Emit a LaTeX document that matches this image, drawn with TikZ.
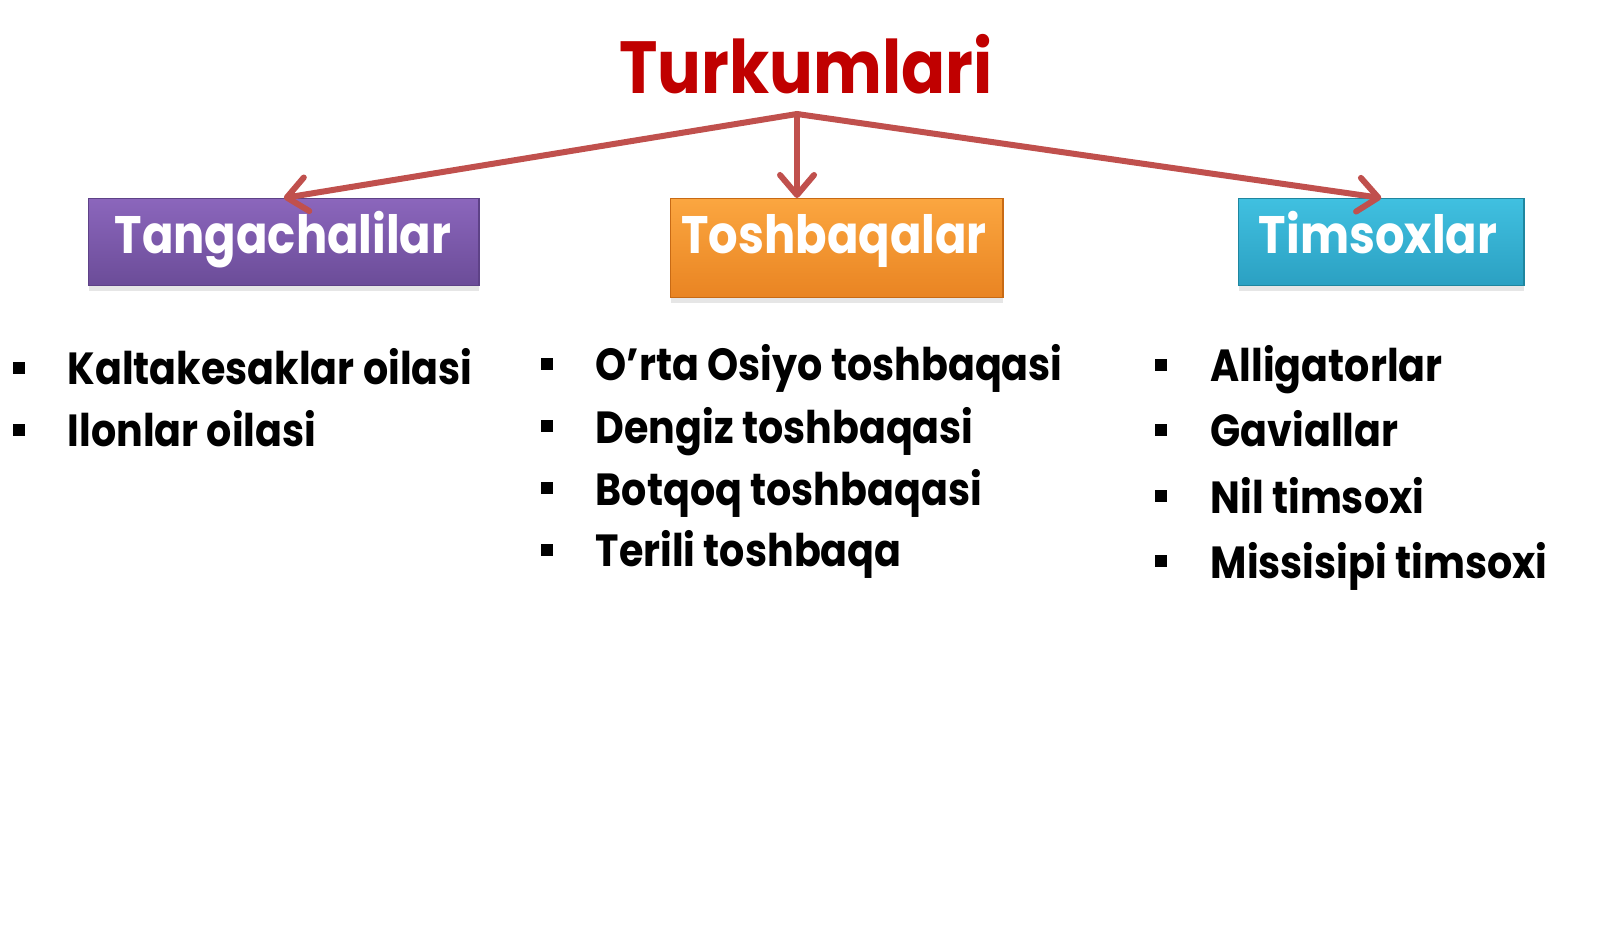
\documentclass[tikz,border=0pt]{standalone}
\usepackage{fontspec}
\setmainfont{Poppins}[FakeStretch=0.88]
\usetikzlibrary{arrows.meta,shadows}

\definecolor{titlered}{HTML}{C00000}
\definecolor{arrowred}{HTML}{C0504D}
\definecolor{purpletop}{HTML}{8B66BC}
\definecolor{purplebot}{HTML}{6B4C98}
\definecolor{purpleedge}{HTML}{5E4287}
\definecolor{orangetop}{HTML}{FBA640}
\definecolor{orangebot}{HTML}{E98422}
\definecolor{orangeedge}{HTML}{C86A14}
\definecolor{cyantop}{HTML}{40C0E0}
\definecolor{cyanbot}{HTML}{2BA0C2}
\definecolor{cyanedge}{HTML}{1F869F}

\begin{document}
\begin{tikzpicture}[x=0.01cm, y=-0.01cm,
    catbox/.style={rectangle, anchor=north west, inner sep=0pt,
        drop shadow={opacity=0.2, shadow xshift=0pt, shadow yshift=-0.05cm}},
    cattext/.style={anchor=base, text=white, font=\fontsize{15}{18}\selectfont\bfseries},
    item/.style={anchor=base west, inner sep=0pt, font=\fontsize{12.8}{15}\selectfont\bfseries},
    bullet/.style={rectangle, fill=black, inner sep=0pt, minimum size=0.12cm},
    link/.style={draw=arrowred, line width=0.6mm, line cap=round, line join=round,
        -{Straight Barb[length=2mm, width=3.4mm, round]}}]
    \useasboundingbox (0,0) rectangle (1600,940);

    \node[anchor=base, text=titlered, font=\fontsize{21}{25}\selectfont\bfseries] (turk) at (806,94) {Turkumlari};
    \coordinate (hub) at (797,114);

    % the three coloured boxes
    \node[catbox, top color=purpletop, bottom color=purplebot, draw=purpleedge,
        minimum width=3.9cm, minimum height=0.87cm] (tang) at (88,198) {};
    \node[catbox, top color=orangetop, bottom color=orangebot, draw=orangeedge,
        minimum width=3.32cm, minimum height=0.99cm] (tosh) at (670,198) {};
    \node[catbox, top color=cyantop, bottom color=cyanbot, draw=cyanedge,
        minimum width=2.85cm, minimum height=0.87cm] (tims) at (1238,198) {};

    \node[cattext] (tangtxt) at (283,254) {Tangachalilar};
    \node[cattext] (toshtxt) at (834,254) {Toshbaqalar};
    \node[cattext] (timstxt) at (1378,254) {Timsoxlar};

    % Draw the arrows from the title
    \draw[link] (hub) -- (tang.north);
    \draw[link] (hub) -- (hub |- tosh.north);
    \draw[link] (hub) -- (tims.north);

    % left list
    \node[bullet] (b1) at (19,368) {};
    \node[item] (l1) at (67,385) {Kaltakesaklar oilasi};
    \node[bullet] (b2) at (19,430) {};
    \node[item] (l2) at (67,447) {Ilonlar oilasi};

    % middle list
    \node[bullet] (b3) at (547,364) {};
    \node[item] (m1) at (595,381) {O’rta Osiyo toshbaqasi};
    \node[bullet] (b4) at (547,426) {};
    \node[item] (m2) at (595,443) {Dengiz toshbaqasi};
    \node[bullet] (b5) at (547,488) {};
    \node[item] (m3) at (595,505) {Botqoq toshbaqasi};
    \node[bullet] (b6) at (547,550) {};
    \node[item] (m4) at (595,567) {Terili toshbaqa};

    % right list
    \node[bullet] (b7) at (1161,365) {};
    \node[item] (r1) at (1210,382) {Alligatorlar};
    \node[bullet] (b8) at (1161,430) {};
    \node[item] (r2) at (1210,447) {Gaviallar};
    \node[bullet] (b9) at (1161,496) {};
    \node[item] (r3) at (1210,513) {Nil timsoxi};
    \node[bullet] (b10) at (1161,561) {};
    \node[item] (r4) at (1210,578) {Missisipi timsoxi};
\end{tikzpicture}
\end{document}
